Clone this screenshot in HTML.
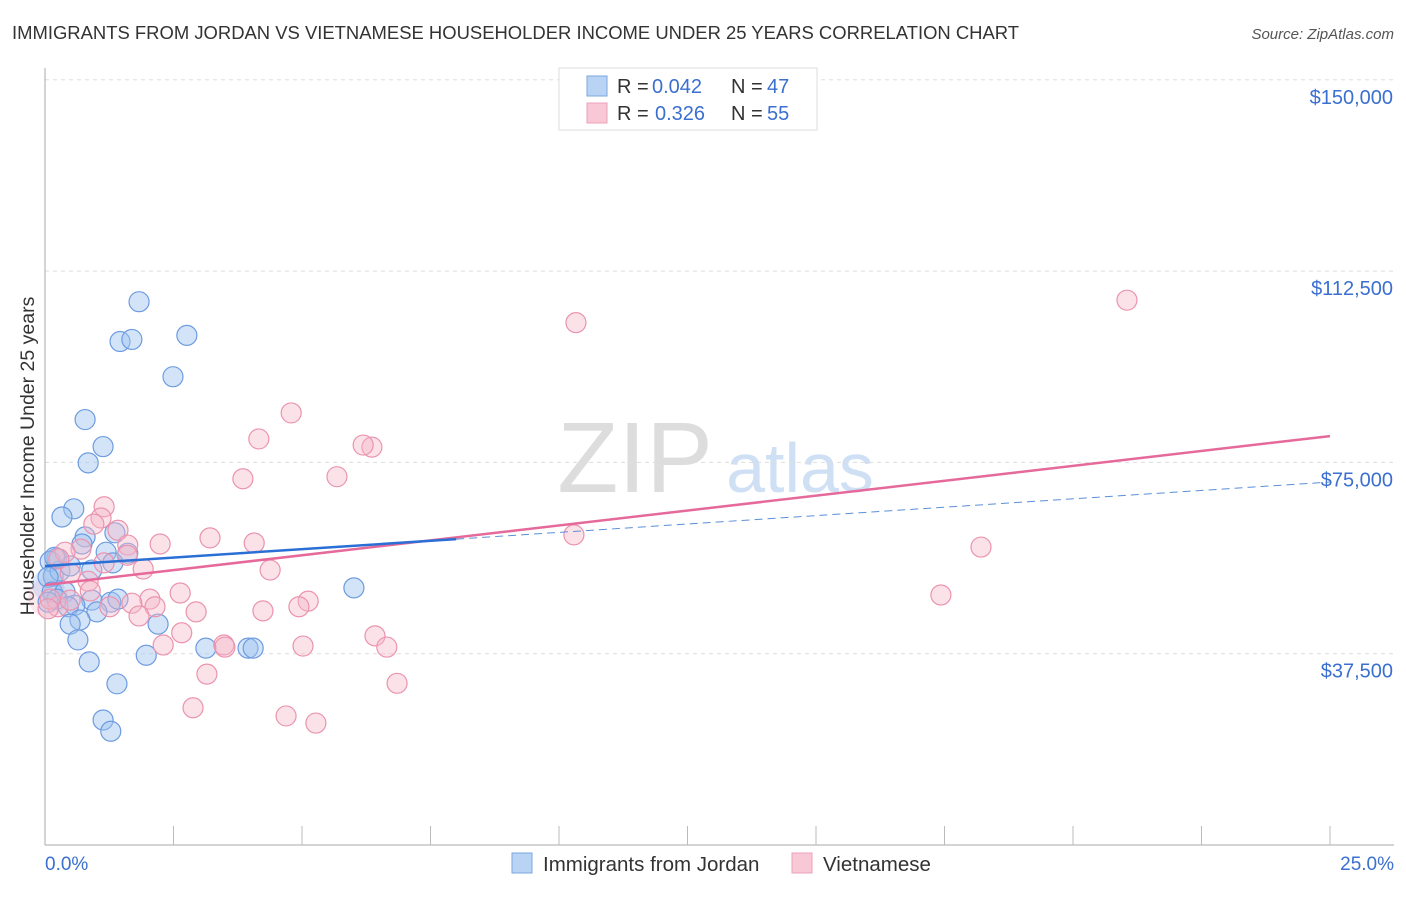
<!DOCTYPE html>
<html><head><meta charset="utf-8">
<style>
body{margin:0;background:#fff;font-family:"Liberation Sans",sans-serif;}
svg text{font-family:"Liberation Sans",sans-serif;}
</style></head>
<body>
<svg id="chart" width="1406" height="892" xmlns="http://www.w3.org/2000/svg">
<text x="12" y="39" font-size="18.45" fill="#333">IMMIGRANTS FROM JORDAN VS VIETNAMESE HOUSEHOLDER INCOME UNDER 25 YEARS CORRELATION CHART</text>
<text x="1394" y="39" font-size="15" fill="#555" text-anchor="end" font-style="italic">Source: ZipAtlas.com</text>
<text x="635" y="492" font-size="100" fill="#ddd" text-anchor="middle" font-family="Liberation Serif">ZIP</text>
<text x="800" y="492" font-size="70" fill="#cfe0f5" text-anchor="middle">atlas</text>
<text transform="translate(34,456) rotate(-90)" font-size="19.5" fill="#333" text-anchor="middle">Householder Income Under 25 years</text>
<g id="grid"></g><g id="axes"></g><g id="marks"></g>
<g>
<rect x="559" y="68" width="258" height="62" fill="#fff" stroke="#ddd"/>
<rect x="587" y="76" width="20" height="20" fill="#b9d3f5" stroke="#7aa7e0"/>
<rect x="587" y="103" width="20" height="20" fill="#f9c8d6" stroke="#eca0b8"/>
<text x="617" y="93" font-size="20" fill="#333">R =</text>
<text x="652" y="93" font-size="20" fill="#3b6fd0">0.042</text>
<text x="731" y="93" font-size="20" fill="#333">N =</text>
<text x="767" y="93" font-size="20" fill="#3b6fd0">47</text>
<text x="617" y="120" font-size="20" fill="#333">R =</text>
<text x="655" y="120" font-size="20" fill="#3b6fd0">0.326</text>
<text x="731" y="120" font-size="20" fill="#333">N =</text>
<text x="767" y="120" font-size="20" fill="#3b6fd0">55</text>
</g>
<g>
<rect x="512" y="853" width="20" height="20" fill="#b9d3f5" stroke="#7aa7e0"/>
<text x="543" y="871" font-size="20.5" fill="#333">Immigrants from Jordan</text>
<rect x="792" y="853" width="20" height="20" fill="#f9c8d6" stroke="#eca0b8"/>
<text x="823" y="871" font-size="20.5" fill="#333">Vietnamese</text>
</g>
</svg>
<script>
const yTicks=[37500,75000,112500,150000];
const yTickLabels=["$37,500","$75,000","$112,500","$150,000"];
const blueX=[1.83,1.46,1.69,2.76,2.49,0.78,1.13,0.84,0.56,0.33,1.36,0.78,0.72,1.19,1.61,1.32,0.23,0.10,0.16,0.29,0.49,0.91,0.06,0.14,0.39,0.23,0.91,0.58,1.28,1.42,1.01,0.45,0.68,0.49,2.20,0.64,6.01,3.13,3.95,4.05,1.97,0.86,1.40,1.13,1.28,0.06,0.19];
const blueY=[106500,98700,99100,99900,91800,83400,78100,74900,65900,64300,61200,60400,59000,57400,57200,55300,56200,55600,52700,53700,54700,53900,52500,49600,49600,48200,48000,47000,47600,48200,45700,46700,44100,43300,43300,40200,50400,38600,38600,38600,37200,35900,31600,24500,22300,47600,56400];
const pinkX=[21.05,10.33,4.79,4.16,6.36,6.19,5.68,3.85,1.15,1.09,0.95,1.42,1.61,0.70,0.39,3.21,2.24,4.07,10.29,18.21,1.60,1.91,4.38,1.15,0.27,0.49,0.84,2.63,2.04,1.69,2.14,5.12,4.94,2.94,4.24,1.26,1.83,2.66,6.42,0.25,0.10,17.43,2.30,3.48,5.02,6.65,3.15,6.85,2.88,4.69,5.27,0.49,0.88,3.50,0.06];
const pinkY=[106800,102400,84700,79600,78000,78400,72200,71800,66300,64100,62900,61700,58800,58000,57400,60200,59000,59200,60800,58400,56800,54100,53900,55300,56100,53300,51700,49400,48200,47400,46700,47800,46700,45700,45900,46700,44900,41600,41000,46700,48200,49000,39200,39200,39000,38800,33500,31700,26900,25300,23900,48000,49800,38800,46300];
const blueLine=[54700,71150];
const blueSolidEnd=8.0;
const pinkLine=[50960,80160];
const X0=45,X1=1330,Y0=845,YPX=191.3/37500;
const sx=v=>X0+v/25*(X1-X0), sy=v=>Y0-v*YPX;
const NS="http://www.w3.org/2000/svg";
function mk(tag,attrs,parent){const e=document.createElementNS(NS,tag);for(const k in attrs)e.setAttribute(k,attrs[k]);parent.appendChild(e);return e;}
const grid=document.getElementById('grid'),axes=document.getElementById('axes'),marks=document.getElementById('marks');
yTicks.forEach((t,i)=>{
 const l=mk('line',{x1:X0,x2:1394,y1:sy(t),y2:sy(t),stroke:'#ddd','stroke-dasharray':'4,4'},grid);
 
 
 const tx=mk('text',{x:1393,y:sy(t)+24,'font-size':20,fill:'#3b6fd0','text-anchor':'end'},grid);
 tx.textContent=yTickLabels[i];
 
 
});
let a=mk('line',{x1:X0,x2:X0,y1:68,y2:Y0,stroke:'#aaa'},axes);


a=mk('line',{x1:X0,x2:1394,y1:Y0,y2:Y0,stroke:'#aaa'},axes);


for(let i=1;i<=10;i++){const t=mk('line',{x1:sx(i*2.5),x2:sx(i*2.5),y1:826,y2:Y0,stroke:'#bbb'},axes);
 
 }
let xl=mk('text',{x:45,y:870,'font-size':19,fill:'#3b6fd0'},axes);xl.textContent='0.0%';


xl=mk('text',{x:1394,y:870,'font-size':19,fill:'#3b6fd0','text-anchor':'end'},axes);xl.textContent='25.0%';


let big=mk('circle',{cx:sx(0.06),cy:sy(48500),r:20,fill:'rgba(246,182,200,0.3)',stroke:'none'},marks);


big=mk('circle',{cx:sx(0.06),cy:sy(51000),r:16,fill:'rgba(160,196,240,0.35)',stroke:'none'},marks);


blueX.forEach((x,i)=>{const c=mk('circle',{cx:sx(x),cy:sy(blueY[i]),r:10,fill:'rgba(160,196,240,0.45)',stroke:'#6c9be0','stroke-width':1.2},marks);
 
 });
pinkX.forEach((x,i)=>{const c=mk('circle',{cx:sx(x),cy:sy(pinkY[i]),r:10,fill:'rgba(246,182,200,0.4)',stroke:'#eb93ae','stroke-width':1.2},marks);
 
 });
const bAt=x=>blueLine[0]+(blueLine[1]-blueLine[0])*x/25;
let ln=mk('line',{x1:sx(blueSolidEnd),y1:sy(bAt(blueSolidEnd)),x2:sx(25),y2:sy(bAt(25)),stroke:'#5b8fd8','stroke-width':1,'stroke-dasharray':'8,5'},marks);


ln=mk('line',{x1:sx(0),y1:sy(pinkLine[0]),x2:sx(25),y2:sy(pinkLine[1]),stroke:'#e5699a','stroke-width':2.5},marks);


ln=mk('line',{x1:sx(0),y1:sy(bAt(0)),x2:sx(blueSolidEnd),y2:sy(bAt(blueSolidEnd)),stroke:'#2a6fd6','stroke-width':2.5},marks);


</script>
</body></html>
